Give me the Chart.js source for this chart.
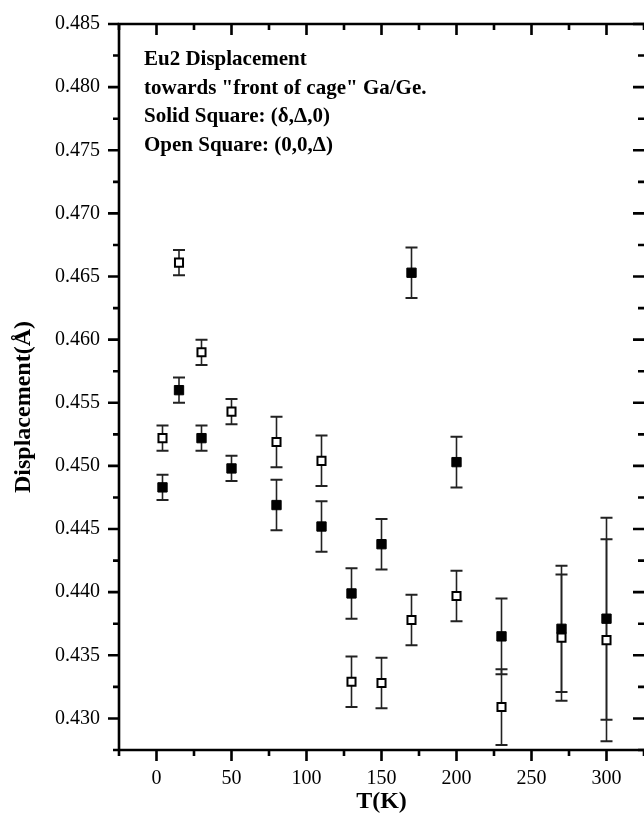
<!DOCTYPE html>
<html lang="en">
<head>
<meta charset="UTF-8">
<title>Eu2 Displacement</title>
<script src="https://cdn.jsdelivr.net/npm/chart.js"></script>
<style>
  html, body { margin: 0; padding: 0; background: #fff; }
</style>
</head>
<body>
<canvas id="chart" width="644" height="813"></canvas>
<script>
// temperatures (K)
var temps = [4, 15, 30, 50, 80, 110, 130, 150, 170, 200, 230, 270, 300];
// solid squares: (delta, Delta, 0)
var solidVals = [0.4483, 0.4560, 0.4522, 0.4498, 0.4469, 0.4452, 0.4399, 0.4438, 0.4653, 0.4503, 0.4365, 0.4371, 0.4379];
var solidErr  = [0.0010, 0.0010, 0.0010, 0.0010, 0.0020, 0.0020, 0.0020, 0.0020, 0.0020, 0.0020, 0.0030, 0.0050, 0.0080];
// open squares: (0, 0, Delta)
var openVals  = [0.4522, 0.4661, 0.4590, 0.4543, 0.4519, 0.4504, 0.4329, 0.4328, 0.4378, 0.4397, 0.4309, 0.4364, 0.4362];
var openErr   = [0.0010, 0.0010, 0.0010, 0.0010, 0.0020, 0.0020, 0.0020, 0.0020, 0.0020, 0.0020, 0.0030, 0.0050, 0.0080];

// axis ticks
var xTickVals  = [0, 50, 100, 150, 200, 250, 300];
var xMinorVals = [-25, 25, 75, 125, 175, 225, 275, 325];
var yTickVals  = [0.430, 0.435, 0.440, 0.445, 0.450, 0.455, 0.460, 0.465, 0.470, 0.475, 0.480, 0.485];
var yMinorVals = [0.4275, 0.4325, 0.4375, 0.4425, 0.4475, 0.4525, 0.4575, 0.4625, 0.4675, 0.4725, 0.4775, 0.4825];

var noteLines = ['Eu2 Displacement', 'towards "front of cage" Ga/Ge.', 'Solid Square: (\u03b4,\u0394,0)', 'Open Square: (0,0,\u0394)'];

var serif = '"Liberation Serif", "Times New Roman", serif';

function toPoints(vals) {
    return temps.map(function(t, i) { return { x: t, y: vals[i] }; });
}

var frame = {
    id: 'frame',
    beforeDatasetsDraw: function(chart) {
        // error bars, behind the squares
        var ctx = chart.ctx;
        var xs = chart.scales.x, ys = chart.scales.y;
        var sets = [[solidVals, solidErr], [openVals, openErr]];
        ctx.save();
        ctx.strokeStyle = '#222';
        sets.forEach(function(s) {
            temps.forEach(function(t, i) {
                var px = xs.getPixelForValue(t);
                var top = ys.getPixelForValue(s[0][i] + s[1][i]);
                var bot = ys.getPixelForValue(s[0][i] - s[1][i]);
                ctx.lineWidth = 1.6;
                ctx.beginPath();
                ctx.moveTo(px, top); ctx.lineTo(px, bot);
                ctx.stroke();
                ctx.lineWidth = 2;
                ctx.beginPath();
                ctx.moveTo(px - 6, top); ctx.lineTo(px + 6, top);
                ctx.moveTo(px - 6, bot); ctx.lineTo(px + 6, bot);
                ctx.stroke();
            });
        });
        ctx.restore();
    },
    afterDraw: function(chart) {
        var ctx = chart.ctx;
        var a = chart.chartArea;
        var xs = chart.scales.x, ys = chart.scales.y;
        ctx.save();
        ctx.strokeStyle = '#000';
        ctx.lineWidth = 2.6;
        ctx.beginPath();
        ctx.moveTo(a.left, a.bottom); ctx.lineTo(a.left, a.top);
        ctx.lineTo(a.right + 2, a.top);
        ctx.moveTo(a.left, a.bottom); ctx.lineTo(a.right + 2, a.bottom);
        ctx.stroke();

        function xTick(v, len) {
            var px = xs.getPixelForValue(v);
            ctx.moveTo(px, a.bottom); ctx.lineTo(px, a.bottom + len);
            ctx.moveTo(px, a.top); ctx.lineTo(px, a.top + len);
        }
        function yTick(v, len) {
            var py = ys.getPixelForValue(v);
            ctx.moveTo(a.left - len, py); ctx.lineTo(a.left, py);
            ctx.moveTo(a.right, py); ctx.lineTo(a.right - len, py);
        }
        ctx.lineWidth = 2.6;
        ctx.beginPath();
        xTickVals.forEach(function(v) { xTick(v, 11); });
        xMinorVals.forEach(function(v) { xTick(v, 6); });
        yTickVals.forEach(function(v) { yTick(v, 11); });
        yMinorVals.forEach(function(v) { yTick(v, 6); });
        ctx.stroke();

        // axis titles
        ctx.fillStyle = '#000';
        ctx.font = 'bold 24px ' + serif;
        ctx.textAlign = 'center';
        ctx.textBaseline = 'alphabetic';
        ctx.fillText('T(K)', (a.left + a.right) / 2, 808);
        ctx.save();
        ctx.translate(30, 407);
        ctx.rotate(-Math.PI / 2);
        ctx.fillText('Displacement(\u00c5)', 0, 0);
        ctx.restore();

        // note in the corner
        ctx.font = 'bold 21px ' + serif;
        ctx.textAlign = 'left';
        noteLines.forEach(function(line, i) {
            ctx.fillText(line, 144, 65 + i * 28.5);
        });
        ctx.restore();
    }
};

var ctx = document.getElementById('chart').getContext('2d');
var chart = new Chart(ctx, {
    type: 'scatter',
    data: {
        datasets: [{
            label: 'Solid Square',
            data: toPoints(solidVals),
            pointStyle: 'rect',
            pointRadius: 6.6,
            backgroundColor: '#000',
            borderColor: '#000',
            borderWidth: 1,
            order: 1
        }, {
            label: 'Open Square',
            data: toPoints(openVals),
            pointStyle: 'rect',
            pointRadius: 5.7,
            backgroundColor: '#fff',
            borderColor: '#000',
            borderWidth: 2,
            order: 0
        }]
    },
    options: {
        responsive: false,
        animation: false,
        layout: { padding: { top: 24, left: 0, right: 0, bottom: 0 }, autoPadding: false },
        plugins: {
            legend: { display: false },
            tooltip: { enabled: false }
        },
        scales: {
            x: {
                type: 'linear',
                min: -25,
                max: 325,
                grid: { display: false, drawTicks: false },
                border: { display: false },
                afterFit: function(scale) {
                    scale.height = 63;
                    scale.paddingLeft = 0;
                    scale.paddingRight = 0;
                },
                afterBuildTicks: function(scale) {
                    scale.ticks = xTickVals.map(function(v) { return { value: v }; });
                },
                ticks: {
                    padding: 17,
                    color: '#000',
                    font: { family: serif, size: 20 },
                    callback: function(v) { return String(v); }
                }
            },
            y: {
                type: 'linear',
                min: 0.4275,
                max: 0.485,
                grid: { display: false, drawTicks: false },
                border: { display: false },
                afterFit: function(scale) {
                    scale.width = 119;
                    scale.paddingTop = 0;
                    scale.paddingBottom = 0;
                },
                afterBuildTicks: function(scale) {
                    scale.ticks = yTickVals.map(function(v) { return { value: v }; });
                },
                ticks: {
                    padding: 19,
                    color: '#000',
                    font: { family: serif, size: 20 },
                    callback: function(v) { return v.toFixed(3); }
                }
            }
        }
    },
    plugins: [frame]
});
</script>
</body>
</html>
